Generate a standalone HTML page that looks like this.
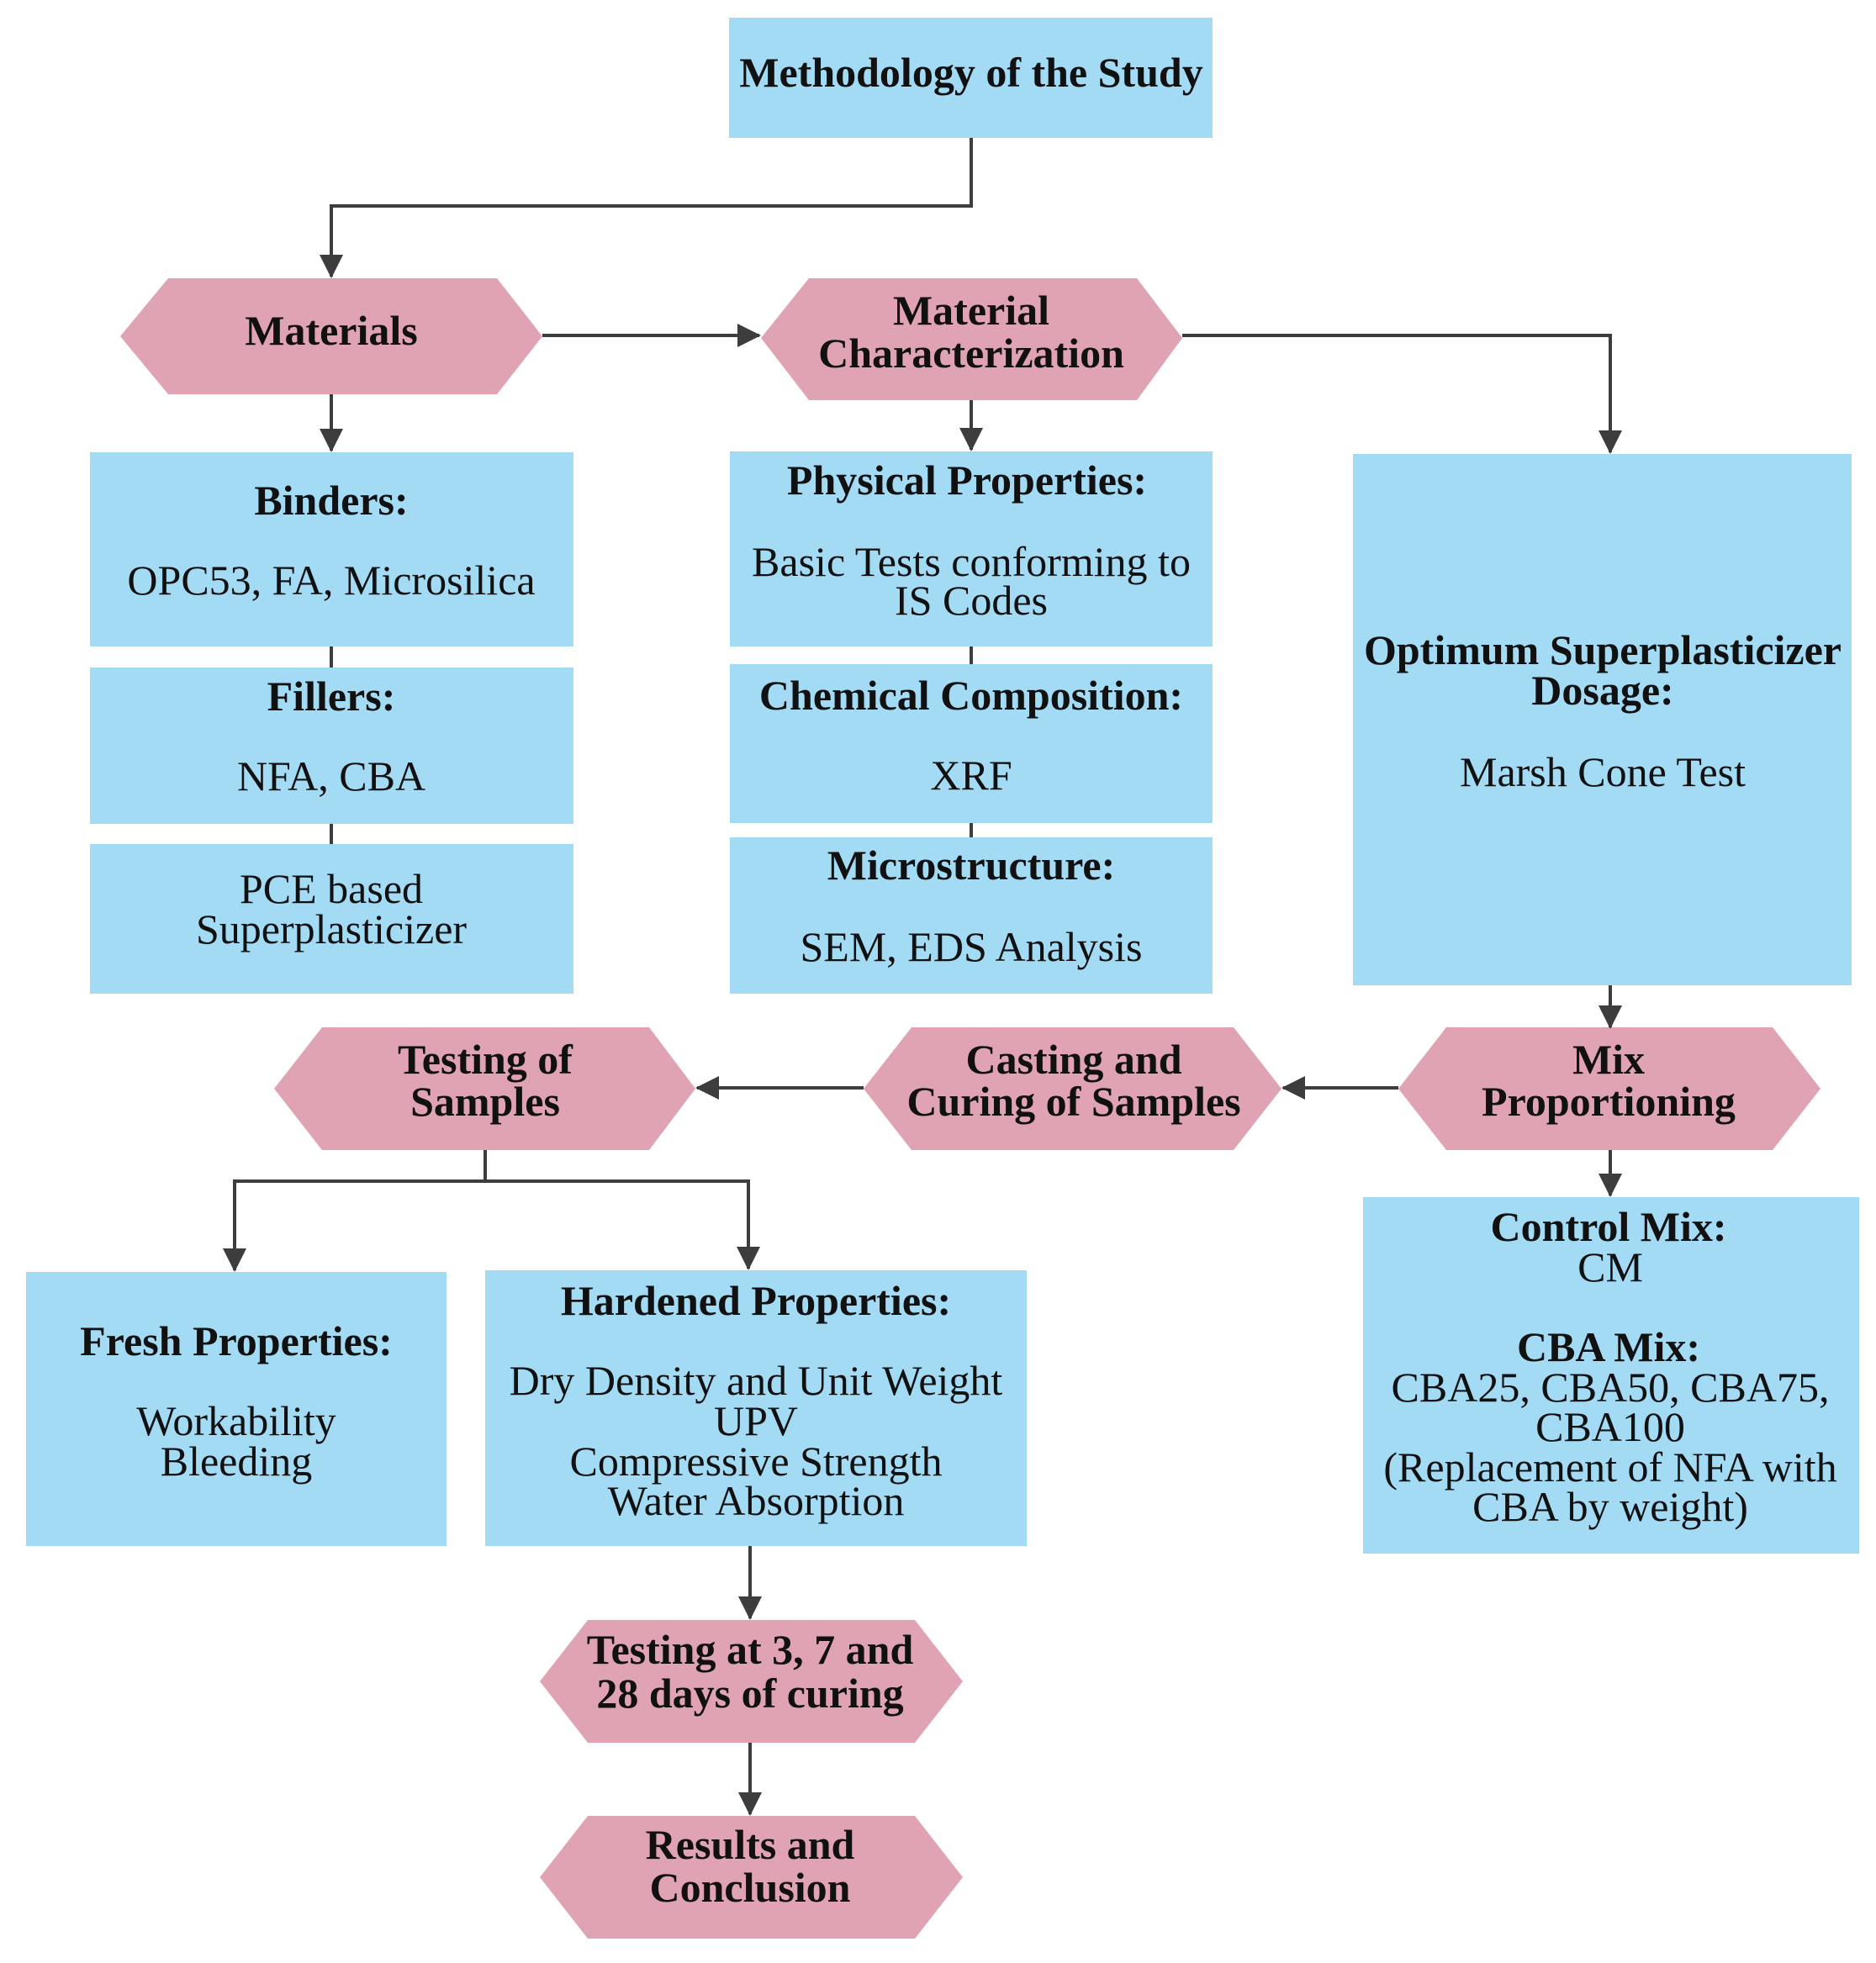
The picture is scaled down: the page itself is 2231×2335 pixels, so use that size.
<!DOCTYPE html>
<html><head><meta charset="utf-8"><style>
html,body{margin:0;padding:0;background:#fff}
svg{display:block}
text{font-family:"Liberation Serif",serif;font-size:50px;fill:#111;text-anchor:middle}
.b{font-weight:bold}
</style></head><body>
<svg width="2231" height="2335" viewBox="0 0 2231 2335" xmlns="http://www.w3.org/2000/svg">
<defs>
<marker id="ar" markerWidth="28" markerHeight="28" refX="26" refY="14" orient="auto" markerUnits="userSpaceOnUse"><path d="M0,0 L28,14 L0,28 z" fill="#3d3d3d"/></marker></defs>
<g fill="#a3dbf5">
<rect x="867" y="21" width="575" height="143"/>
<rect x="107" y="538" width="575" height="231"/>
<rect x="107" y="794" width="575" height="186"/>
<rect x="107" y="1004" width="575" height="178"/>
<rect x="868" y="537" width="574" height="232"/>
<rect x="868" y="790" width="574" height="189"/>
<rect x="868" y="996" width="574" height="186"/>
<rect x="1609" y="540" width="593" height="632"/>
<rect x="31" y="1513" width="500" height="326"/>
<rect x="577" y="1511" width="644" height="328"/>
<rect x="1621" y="1424" width="590" height="424"/>
</g>
<g fill="#e0a3b4">
<polygon points="143,400 200,331 591,331 645,400 591,469 200,469"/>
<polygon points="905,402 962,331 1352,331 1406,402 1352,476 962,476"/>
<polygon points="326,1295 383,1222 772,1222 827,1295 772,1368 383,1368"/>
<polygon points="1027,1295 1084,1222 1467,1222 1524,1295 1467,1368 1084,1368"/>
<polygon points="1663,1295 1720,1222 2108,1222 2165,1295 2108,1368 1720,1368"/>
<polygon points="642,2000 699,1927 1088,1927 1145,2000 1088,2073 699,2073"/>
<polygon points="642,2233 699,2160 1088,2160 1145,2233 1088,2306 699,2306"/>
</g>
<g stroke="#3d3d3d" stroke-width="4" fill="none">
<polyline points="1155,164 1155,245 394,245 394,329" marker-end="url(#ar)"/>
<line x1="645" y1="399" x2="903" y2="399" marker-end="url(#ar)"/>
<polyline points="1406,399 1915,399 1915,538" marker-end="url(#ar)"/>
<line x1="394" y1="469" x2="394" y2="536" marker-end="url(#ar)"/>
<line x1="1155" y1="476" x2="1155" y2="535" marker-end="url(#ar)"/>
<line x1="394" y1="769" x2="394" y2="794"/>
<line x1="394" y1="980" x2="394" y2="1004"/>
<line x1="1155" y1="769" x2="1155" y2="790"/>
<line x1="1155" y1="979" x2="1155" y2="996"/>
<line x1="1915" y1="1172" x2="1915" y2="1222" marker-end="url(#ar)"/>
<line x1="1663" y1="1294" x2="1526" y2="1294" marker-end="url(#ar)"/>
<line x1="1027" y1="1294" x2="829" y2="1294" marker-end="url(#ar)"/>
<line x1="577" y1="1368" x2="577" y2="1405"/>
<polyline points="577,1405 279,1405 279,1511" marker-end="url(#ar)"/>
<polyline points="577,1405 890,1405 890,1509" marker-end="url(#ar)"/>
<line x1="1915" y1="1368" x2="1915" y2="1422" marker-end="url(#ar)"/>
<line x1="892" y1="1839" x2="892" y2="1925" marker-end="url(#ar)"/>
<line x1="892" y1="2073" x2="892" y2="2158" marker-end="url(#ar)"/>
</g>
<text class="b" x="1155" y="103">Methodology of the Study</text>
<text class="b" x="394" y="410">Materials</text>
<text class="b" x="1155" y="386">Material</text>
<text class="b" x="1155" y="437">Characterization</text>
<text class="b" x="394" y="612">Binders:</text>
<text x="394" y="707">OPC53, FA, Microsilica</text>
<text class="b" x="394" y="845">Fillers:</text>
<text x="394" y="940">NFA, CBA</text>
<text x="394" y="1074">PCE based</text>
<text x="394" y="1122">Superplasticizer</text>
<text class="b" x="1150" y="588">Physical Properties:</text>
<text x="1155" y="685">Basic Tests conforming to</text>
<text x="1155" y="731">IS Codes</text>
<text class="b" x="1155" y="844">Chemical Composition:</text>
<text x="1155" y="939">XRF</text>
<text class="b" x="1155" y="1046">Microstructure:</text>
<text x="1155" y="1143">SEM, EDS Analysis</text>
<text class="b" x="1906" y="790">Optimum Superplasticizer</text>
<text class="b" x="1906" y="838">Dosage:</text>
<text x="1906" y="935">Marsh Cone Test</text>
<text class="b" x="577" y="1277">Testing of</text>
<text class="b" x="577" y="1327">Samples</text>
<text class="b" x="1277" y="1277">Casting and</text>
<text class="b" x="1277" y="1327">Curing of Samples</text>
<text class="b" x="1913" y="1277">Mix</text>
<text class="b" x="1913" y="1327">Proportioning</text>
<text class="b" x="281" y="1612">Fresh Properties:</text>
<text x="281" y="1707">Workability</text>
<text x="281" y="1755">Bleeding</text>
<text class="b" x="899" y="1564">Hardened Properties:</text>
<text x="899" y="1659">Dry Density and Unit Weight</text>
<text x="899" y="1707">UPV</text>
<text x="899" y="1755">Compressive Strength</text>
<text x="899" y="1802">Water Absorption</text>
<text class="b" x="1913" y="1476">Control Mix:</text>
<text x="1915" y="1524">CM</text>
<text class="b" x="1913" y="1619">CBA Mix:</text>
<text x="1915" y="1667">CBA25, CBA50, CBA75,</text>
<text x="1915" y="1714">CBA100</text>
<text x="1915" y="1762">(Replacement of NFA with</text>
<text x="1915" y="1809">CBA by weight)</text>
<text class="b" x="892" y="1979">Testing at 3, 7 and</text>
<text class="b" x="892" y="2031">28 days of curing</text>
<text class="b" x="892" y="2211">Results and</text>
<text class="b" x="892" y="2262">Conclusion</text>
</svg>
</body></html>
